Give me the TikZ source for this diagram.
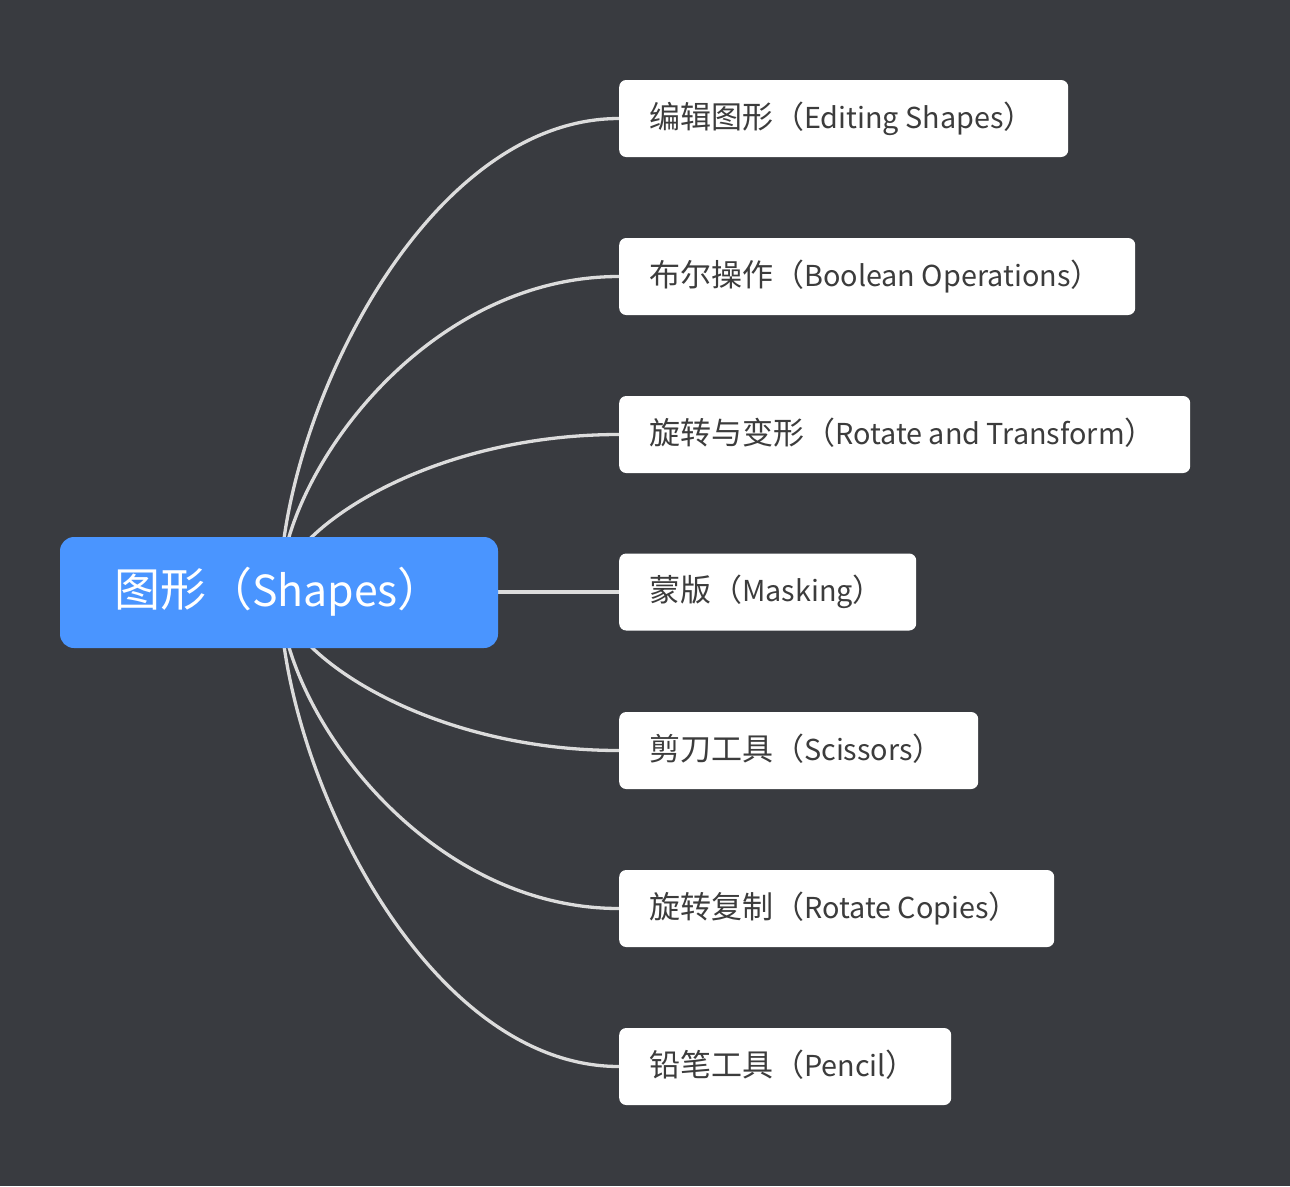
\documentclass[tikz,border=0pt]{standalone}
\usepackage{fontspec}
\setmainfont{Noto Sans CJK SC}
\usetikzlibrary{calc}
\definecolor{bgc}{HTML}{393B40}
\definecolor{rootc}{HTML}{4A95FF}
\definecolor{linec}{HTML}{DCDCDC}
\definecolor{txtc}{HTML}{3C3C3C}
\tikzset{
  childbox/.style={anchor=west, fill=white, rounded corners=7pt, minimum height=77pt,
    inner xsep=30pt, inner ysep=0pt, text=txtc, font=\fontsize{31}{31}\selectfont,
    text height=19.6pt, text depth=0pt},
  rootbox/.style={fill=rootc, rounded corners=14pt, minimum width=438pt, minimum height=111pt,
    inner sep=0pt, text=white, font=\fontsize{46}{46}\selectfont, text height=27pt, text depth=0pt},
  conn/.style={draw=linec, line width=3.3pt}
}
\newcommand{\cbox}[2]{\makebox[\dimexpr #1pt-60pt\relax][l]{#2}}
\newcommand{\latn}[1]{{\fontsize{28.8}{28.8}\selectfont #1}}
\newcommand{\latr}[1]{{\fontsize{42.8}{42.8}\selectfont #1}}
\begin{document}
\begin{tikzpicture}[x=1pt,y=-1pt]
\fill[bgc] (0,0) rectangle (1290,1186);
\useasboundingbox (0,0) rectangle (1290,1186);
\coordinate (hub) at (280,592);
\node[childbox] (c1) at (619,118.5) {\cbox{449}{编辑图形（\latn{Editing Shapes}）}};
\node[childbox] (c2) at (619,276.5) {\cbox{516}{布尔操作（\latn{Boolean Operations}）}};
\node[childbox] (c3) at (619,434.5) {\cbox{571}{旋转与变形（\latn{Rotate and Transform}）}};
\node[childbox] (c4) at (619,592) {\cbox{297}{蒙版（\latn{Masking}）}};
\node[childbox] (c5) at (619,750.5) {\cbox{359}{剪刀工具（\latn{Scissors}）}};
\node[childbox] (c6) at (619,908.5) {\cbox{435}{旋转复制（\latn{Rotate Copies}）}};
\node[childbox] (c7) at (619,1066.5) {\cbox{332}{铅笔工具（\latn{Pencil}）}};
\foreach \c in {c1,c2,c3,c5,c6,c7}{
  \draw[conn] (hub) .. controls ($(hub)!0.36!(hub |- \c.west)$) and ($(\c.west)!0.58!(hub |- \c.west)$) .. (\c.west);
}
\draw[conn] (hub) -- (c4.west);
\node[rootbox] (root) at (279,592.5) {图形（\latr{Shapes}）};
\end{tikzpicture}
\end{document}
